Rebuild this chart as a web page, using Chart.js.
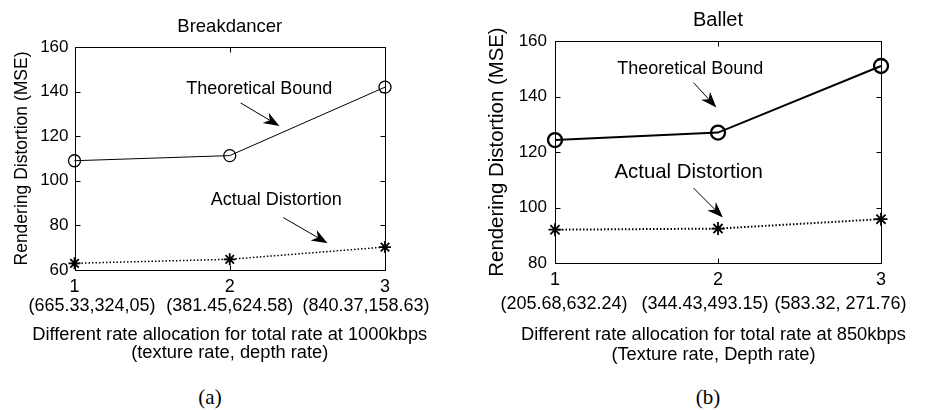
<!DOCTYPE html>
<html>
<head>
<meta charset="utf-8">
<title>Rendering distortion</title>
<script src="https://cdn.jsdelivr.net/npm/chart.js@4.4.0/dist/chart.umd.min.js"></script>
<style>
    body { margin: 0; background: #fff; width: 925px; height: 410px; position: relative; overflow: hidden; }
    canvas { position: absolute; top: 0; }
    #breakChart { left: 0; }
    #balletChart { left: 460px; }
    .caption {
        position: absolute; top: 385px; width: 60px; text-align: center;
        font-family: "Liberation Serif", "Times New Roman", serif; font-size: 21px; color: #000;
    }
</style>
</head>
<body>
<canvas id="breakChart" width="460" height="372"></canvas>
<canvas id="balletChart" width="465" height="372"></canvas>
<div class="caption" style="left:180px">(a)</div>
<div class="caption" style="left:678px">(b)</div>
<script>
// Data
const allocationIndex = [1, 2, 3];

const breakAllocations = ['(665.33,324,05)', '(381.45,624.58)', '(840.37,158.63)'];
const breakBound = [109, 111.3, 142];
const breakActual = [63, 64.8, 70.3];

const balletAllocations = ['(205.68,632.24)', '(344.43,493.15)', '(583.32, 271.76)'];
const balletBound = [124.3, 127, 151];
const balletActual = [92, 92.4, 95.8];

const FONT = '"Liberation Sans", Arial, sans-serif';

function points(values) {
    return values.map((v, i) => ({ x: allocationIndex[i], y: v }));
}

// Draws the MATLAB-ish box, inward ticks, titles, allocation labels and arrows
const panelDecor = {
    id: 'panelDecor',
    afterDraw(chart, args, opts) {
        const { ctx, chartArea: a, scales: { x, y } } = chart;
        const L = Math.round(a.left) + 0.5, R = Math.round(a.right) + 0.5;
        const T = Math.round(a.top) + 0.5, B = Math.round(a.bottom) + 0.5;
        ctx.save();
        ctx.strokeStyle = '#000';
        ctx.lineWidth = 1;
        ctx.strokeRect(L, T, R - L, B - T);

        ctx.beginPath();
        y.ticks.forEach(t => {
            const py = Math.round(y.getPixelForValue(t.value)) + 0.5;
            ctx.moveTo(L, py); ctx.lineTo(L + 5, py);
            ctx.moveTo(R, py); ctx.lineTo(R - 5, py);
        });
        x.ticks.forEach(t => {
            const px = Math.round(x.getPixelForValue(t.value)) + 0.5;
            ctx.moveTo(px, B); ctx.lineTo(px, B - 5);
            ctx.moveTo(px, T); ctx.lineTo(px, T + 5);
        });
        ctx.stroke();

        ctx.fillStyle = '#000';
        ctx.textAlign = 'center';
        ctx.textBaseline = 'middle';

        // title
        ctx.font = opts.titleSize + 'px ' + FONT;
        ctx.fillText(opts.title, (a.left + a.right) / 2, opts.titleY);

        // x axis title (drawn here so it is not squeezed to the plot width)
        ctx.font = opts.xTitleSize + 'px ' + FONT;
        opts.xTitle.forEach((line, i) => {
            ctx.fillText(line, (a.left + a.right) / 2 + opts.xTitleShift, opts.xTitleY[i]);
        });

        // second line of the x tick labels
        ctx.font = opts.allocSize + 'px ' + FONT;
        opts.allocations.forEach((label, i) => {
            const cx = x.getPixelForValue(allocationIndex[i]) + opts.allocShift[i];
            ctx.fillText(label, cx, a.bottom + opts.allocOffset);
        });

        // annotations
        opts.notes.forEach(n => {
            ctx.font = n.size + 'px ' + FONT;
            ctx.fillText(n.text, x.getPixelForValue(n.at[0]), y.getPixelForValue(n.at[1]));
            const x0 = x.getPixelForValue(n.from[0]), y0 = y.getPixelForValue(n.from[1]);
            const x1 = x.getPixelForValue(n.to[0]), y1 = y.getPixelForValue(n.to[1]);
            const ang = Math.atan2(y1 - y0, x1 - x0);
            const head = 16, half = 6;
            ctx.lineWidth = 1;
            ctx.beginPath();
            ctx.moveTo(x0, y0);
            ctx.lineTo(x1 - Math.cos(ang) * head * 0.7, y1 - Math.sin(ang) * head * 0.7);
            ctx.stroke();
            ctx.save();
            ctx.translate(x1, y1);
            ctx.rotate(ang);
            ctx.beginPath();
            ctx.moveTo(0, 0);
            ctx.lineTo(-head, -half);
            ctx.lineTo(-head * 0.7, 0);
            ctx.lineTo(-head, half);
            ctx.closePath();
            ctx.fill();
            ctx.restore();
        });
        ctx.restore();
    }
};

function makeChart(id, cfg) {
    const canvas = document.getElementById(id);
    return new Chart(canvas, {
        type: 'line',
        data: {
            datasets: [
                {
                    data: points(cfg.bound),
                    borderColor: '#000',
                    borderWidth: cfg.boundWidth,
                    pointStyle: 'circle',
                    pointRadius: cfg.circleRadius,
                    pointBorderWidth: cfg.boundWidth + 0.3,
                    pointBorderColor: '#000',
                    pointBackgroundColor: 'rgba(0,0,0,0)',
                    clip: false
                },
                {
                    data: points(cfg.actual),
                    borderColor: '#000',
                    borderWidth: cfg.actualWidth,
                    borderDash: [1.5, 2],
                    pointStyle: 'star',
                    pointRadius: cfg.starRadius,
                    pointBorderWidth: 1.8,
                    pointBorderColor: '#000',
                    clip: false
                }
            ]
        },
        options: {
            responsive: false,
            animation: false,
            devicePixelRatio: 1,
            layout: { padding: { top: cfg.area.top, right: canvas.width - cfg.area.right, left: 0, bottom: 0 } },
            plugins: {
                legend: { display: false },
                tooltip: { enabled: false },
                panelDecor: cfg.decor
            },
            scales: {
                x: {
                    type: 'linear',
                    min: 1, max: 3,
                    grid: { display: false, drawTicks: false },
                    border: { display: false },
                    ticks: {
                        stepSize: 1, color: '#000', padding: 6,
                        font: { family: FONT, size: 18 },
                        maxRotation: 0
                    },
                    afterFit(scale) { scale.height = canvas.height - cfg.area.bottom; }
                },
                y: {
                    min: cfg.yMin, max: 160,
                    grid: { display: false, drawTicks: false },
                    border: { display: false },
                    ticks: {
                        stepSize: 20, color: '#000', padding: cfg.yTickPad,
                        font: { family: FONT, size: 17 }
                    },
                    title: {
                        display: true,
                        text: 'Rendering Distortion (MSE)',
                        color: '#000',
                        font: { family: FONT, size: cfg.yTitleSize, lineHeight: 1.15 },
                        padding: { top: cfg.yTitlePad, bottom: 0 }
                    },
                    afterFit(scale) { scale.width = cfg.area.left; }
                }
            }
        },
        plugins: [panelDecor]
    });
}

makeChart('breakChart', {
    bound: breakBound,
    actual: breakActual,
    boundWidth: 1,
    actualWidth: 1.5,
    circleRadius: 6,
    starRadius: 6,
    yMin: 60,
    yTickPad: 6,
    yTitleSize: 17.5,
    yTitlePad: 12,
    area: { left: 74.5, right: 385, top: 47, bottom: 270 },
    decor: {
        title: 'Breakdancer', titleSize: 18.5, titleY: 27,
        xTitle: ['Different rate allocation for total rate at 1000kbps', '(texture rate, depth rate)'],
        xTitleSize: 18.3, xTitleY: [335, 353], xTitleShift: 0,
        allocations: breakAllocations, allocSize: 18, allocOffset: 35.7, allocShift: [17.5, 0, -19],
        notes: [
            { text: 'Theoretical Bound', size: 18, at: [2.19, 141.2], from: [2.07, 134.9], to: [2.32, 124.6] },
            { text: 'Actual Distortion', size: 18, at: [2.30, 91.4], from: [2.345, 83.5], to: [2.63, 72] }
        ]
    }
});

makeChart('balletChart', {
    bound: balletBound,
    actual: balletActual,
    boundWidth: 2,
    actualWidth: 2,
    circleRadius: 7,
    starRadius: 6.5,
    yMin: 80,
    yTickPad: 8,
    yTitleSize: 20.4,
    yTitlePad: 26,
    area: { left: 95, right: 421, top: 41, bottom: 263 },
    decor: {
        title: 'Ballet', titleSize: 20, titleY: 20,
        xTitle: ['Different rate allocation for total rate at 850kbps', '(Texture rate, Depth rate)'],
        xTitleSize: 18.3, xTitleY: [335, 355], xTitleShift: -4.5,
        allocations: balletAllocations, allocSize: 18, allocOffset: 41, allocShift: [9, -13, -40.5],
        notes: [
            { text: 'Theoretical Bound', size: 18, at: [1.83, 149.9], from: [1.85, 145], to: [1.99, 136] },
            { text: 'Actual Distortion', size: 20.4, at: [1.82, 112.6], from: [1.85, 107], to: [2.03, 96.4] }
        ]
    }
});
</script>
</body>
</html>
